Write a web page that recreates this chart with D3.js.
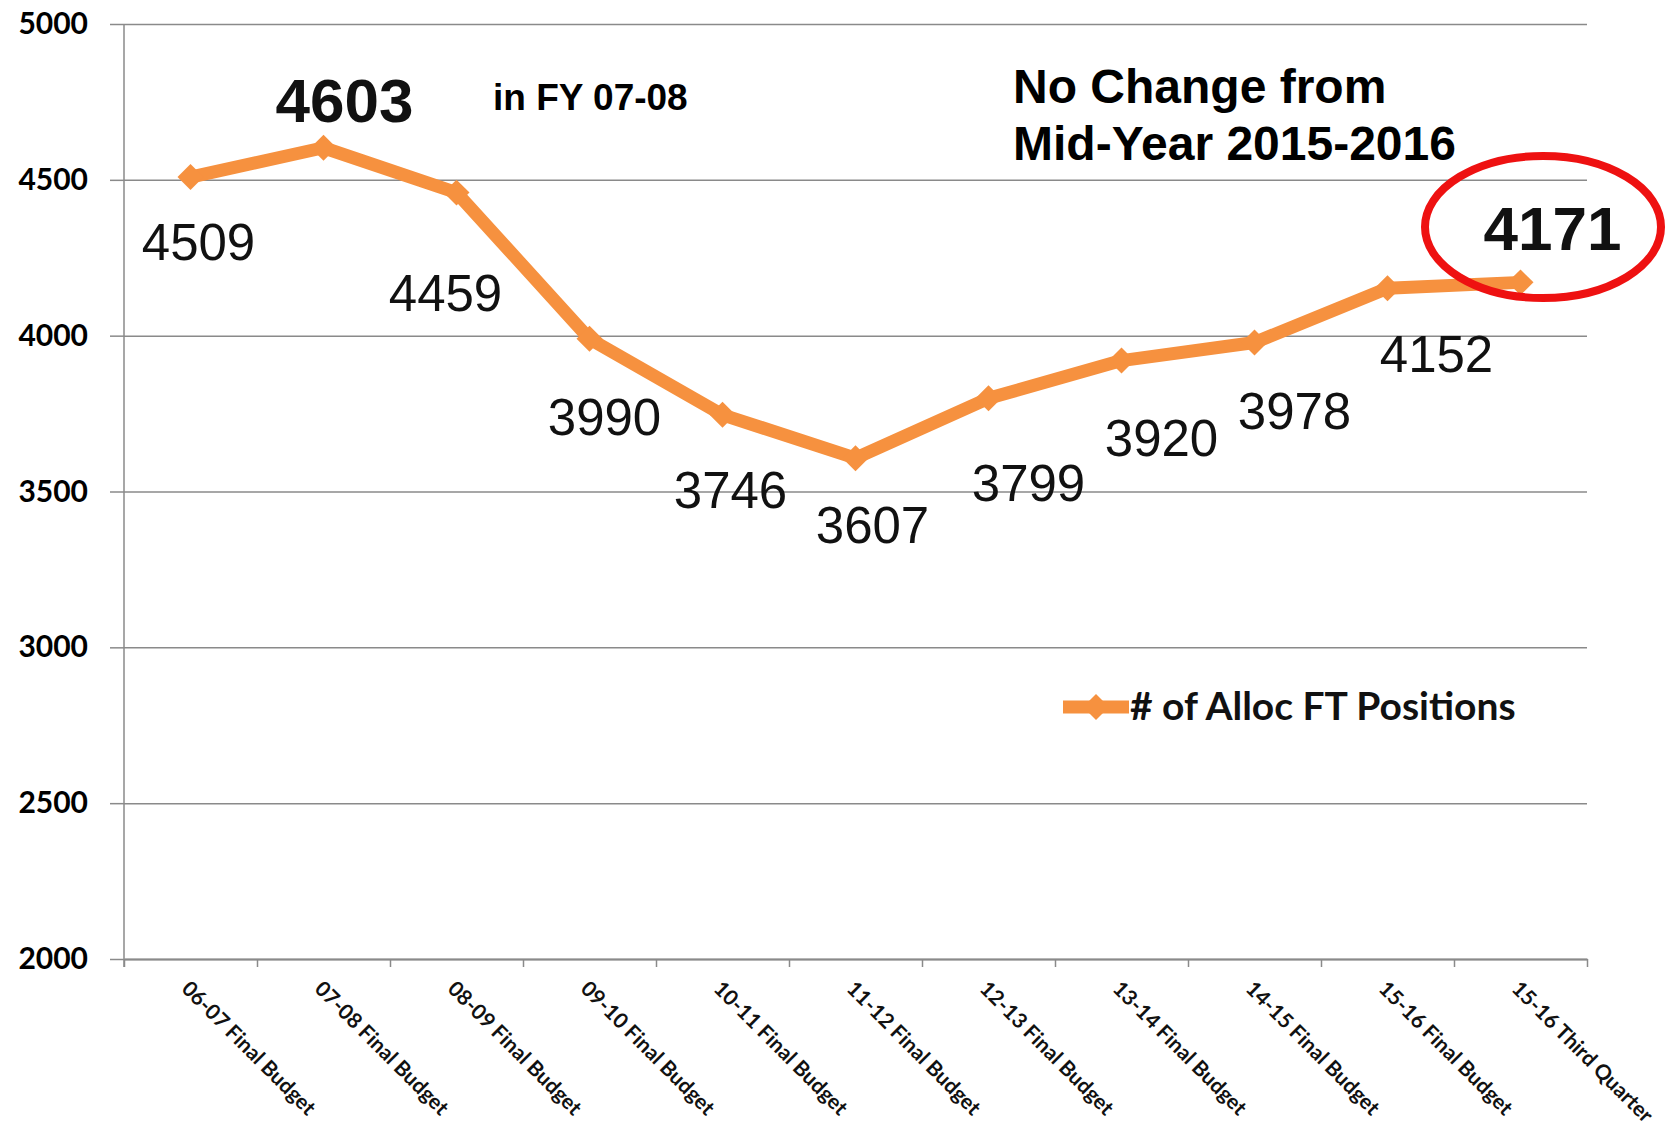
<!DOCTYPE html>
<html>
<head>
<meta charset="utf-8">
<script src="https://cdn.jsdelivr.net/npm/d3@7"></script>
<style>
  body { margin: 0; background: #fff; }
  svg { display: block; }
</style>
</head>
<body>
<svg id="chart" width="1671" height="1131"></svg>
<script>
// data
const categories = ['06-07 Final Budget', '07-08 Final Budget', '08-09 Final Budget', '09-10 Final Budget',
  '10-11 Final Budget', '11-12 Final Budget', '12-13 Final Budget', '13-14 Final Budget',
  '14-15 Final Budget', '15-16 Final Budget', '15-16 Third Quarter'];
const positions = [4509, 4603, 4459, 3990, 3746, 3607, 3799, 3920, 3978, 4152, 4171];
const yTicks = [2000, 2500, 3000, 3500, 4000, 4500, 5000];
const seriesName = '# of Alloc FT Positions';
const boldPoints = [1, 10];

// where each data label sits relative to its point (hand placed in the original)
const labelDx = [8, 21, -11, 15, 8, 17, 40, 40, 40, 49, 32];
const labelDy = [83, -26, 118, 96, 93, 85, 103, 95, 86, 84, -32];

const orange = '#F6913F';
const gridCol = '#8a8a8a';

const svg = d3.select('#chart');
const plotL = 124, plotR = 1587, plotT = 24, plotB = 959;

const x = d3.scaleBand().domain(categories).range([plotL, plotR]);
const xi = d3.scaleLinear().domain([0, categories.length]).range([plotL, plotR]);
const y = d3.scaleLinear().domain([2000, 5000]).range([plotB, plotT]);

// gridlines
const grid = svg.append('g').attr('transform', 'translate(' + plotL + ',0)')
  .call(d3.axisLeft(y).tickValues(yTicks).tickSize(-(plotR - plotL)).tickFormat(''));
grid.select('.domain').remove();
grid.selectAll('line').attr('stroke', gridCol).attr('stroke-width', 1.5);

// y axis labels + small tick stubs
const yAx = svg.append('g').attr('transform', 'translate(' + plotL + ',0)')
  .call(d3.axisLeft(y).tickValues(yTicks).tickFormat(d3.format('d')).tickSize(14).tickPadding(22));
yAx.select('.domain').remove();
yAx.selectAll('line').attr('stroke', gridCol).attr('stroke-width', 1.5);
yAx.selectAll('text').attr('font-family', 'Lato, sans-serif').attr('font-weight', 'bold')
  .attr('font-size', 30).attr('fill', '#000');

svg.append('line').attr('x1', plotL).attr('x2', plotL).attr('y1', plotT).attr('y2', plotB + 8)
  .attr('stroke', gridCol).attr('stroke-width', 1.5);

// x axis with ticks between categories
const xAx = svg.append('g').attr('transform', 'translate(0,' + plotB + ')')
  .call(d3.axisBottom(xi).tickValues(d3.range(categories.length + 1)).tickSize(8).tickSizeOuter(0).tickFormat(''));
xAx.select('.domain').attr('stroke', gridCol).attr('stroke-width', 2);
xAx.selectAll('line').attr('stroke', gridCol).attr('stroke-width', 1.5);

svg.append('g').selectAll('text').data(categories).enter().append('text')
  .attr('transform', d => 'translate(' + (x(d) + x.bandwidth() / 2 - 10) + ',990) rotate(45)')
  .attr('font-family', 'Lato, sans-serif').attr('font-weight', 'bold').attr('font-size', 21)
  .attr('fill', '#111')
  .text(d => d);

// the series
const cx = (d, i) => x(categories[i]) + x.bandwidth() / 2;
const line = d3.line().x(cx).y(d => y(d));

svg.append('path').datum(positions)
  .attr('d', line)
  .attr('fill', 'none').attr('stroke', orange).attr('stroke-width', 13)
  .attr('stroke-linejoin', 'round').attr('stroke-linecap', 'round');

const marker = d3.symbol(d3.symbolDiamond2, 430);
svg.append('g').selectAll('path').data(positions).enter().append('path')
  .attr('d', marker)
  .attr('transform', (d, i) => 'translate(' + cx(d, i) + ',' + y(d) + ')')
  .attr('fill', orange);

// data labels
svg.append('g').selectAll('text').data(positions).enter().append('text')
  .attr('x', (d, i) => cx(d, i) + labelDx[i])
  .attr('y', (d, i) => y(d) + labelDy[i])
  .attr('text-anchor', 'middle')
  .attr('font-family', '"Liberation Sans", Arial, sans-serif')
  .attr('font-size', (d, i) => boldPoints.includes(i) ? 62 : 51)
  .attr('font-weight', (d, i) => boldPoints.includes(i) ? 'bold' : 'normal')
  .attr('fill', '#111')
  .text(d => d);

// annotations
svg.append('text').attr('x', 493).attr('y', 110)
  .attr('font-family', '"Liberation Sans", Arial, sans-serif').attr('font-weight', 'bold')
  .attr('font-size', 37).text('in FY 07-08');

const note = svg.append('text').attr('font-family', '"Liberation Sans", Arial, sans-serif')
  .attr('font-weight', 'bold').attr('font-size', 48);
note.append('tspan').attr('x', 1013).attr('y', 103).text('No Change from');
note.append('tspan').attr('x', 1013).attr('y', 160).text('Mid-Year 2015-2016');

svg.append('ellipse').attr('cx', 1543).attr('cy', 227).attr('rx', 118).attr('ry', 71)
  .attr('fill', 'none').attr('stroke', '#EE1111').attr('stroke-width', 8);

// legend
const lg = svg.append('g').attr('transform', 'translate(1063,707)');
lg.append('line').attr('x1', 0).attr('x2', 66).attr('stroke', orange).attr('stroke-width', 13);
lg.append('path').attr('d', marker).attr('transform', 'translate(33,0)').attr('fill', orange);
lg.append('text').attr('x', 67).attr('y', 13)
  .attr('font-family', 'Lato, sans-serif').attr('font-weight', 'bold').attr('font-size', 39)
  .attr('fill', '#111').text(seriesName);
</script>
</body>
</html>
